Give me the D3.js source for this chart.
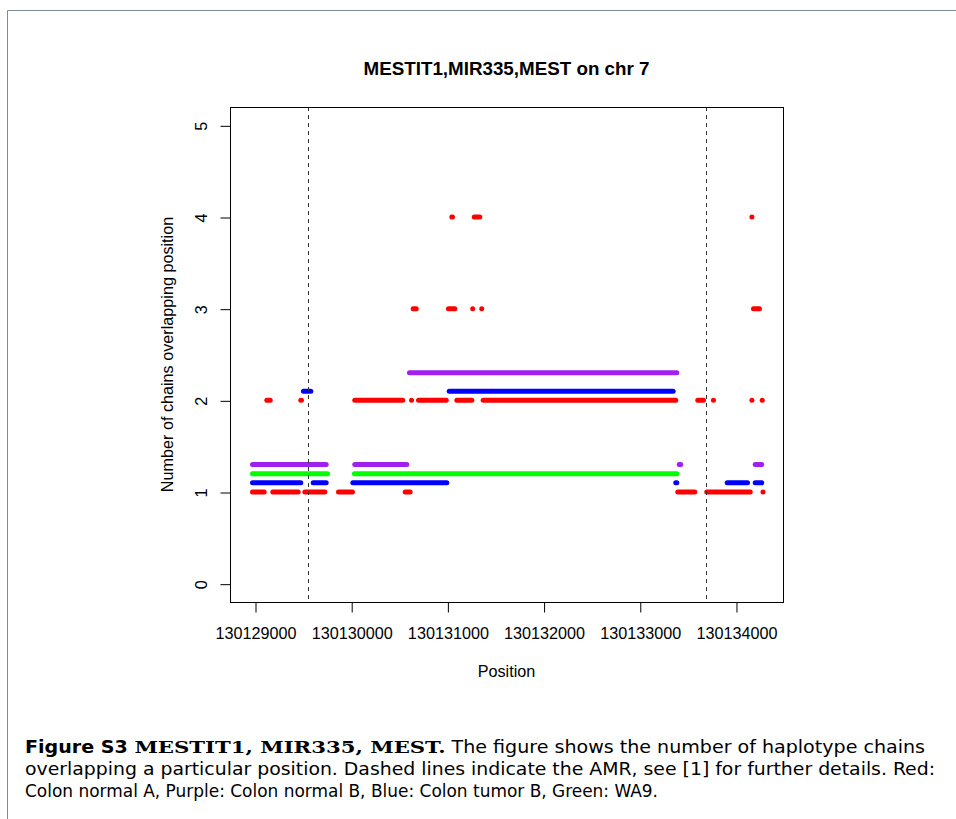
<!DOCTYPE html>
<html>
<head>
<meta charset="utf-8">
<script src="https://cdn.jsdelivr.net/npm/d3@7"></script>
<style>
  html, body { margin: 0; padding: 0; background: #fff; }
  svg { display: block; }
</style>
</head>
<body>
<svg id="fig" width="956" height="819"></svg>
<script>
// Haplotype chain coverage runs: [start, end, number of chains]
const colonNormalA = [
  [130128974, 130129096, 1], [130129185, 130129449, 1], [130129518, 130129726, 1],
  [130129868, 130130013, 1], [130130561, 130130613, 1], [130133395, 130133572, 1],
  [130133696, 130134148, 1], [130134281, 130134281, 1],
  [130129123, 130129158, 2], [130129476, 130129483, 2], [130130037, 130130536, 2],
  [130130627, 130130627, 2], [130130700, 130130988, 2], [130131098, 130131254, 2],
  [130131372, 130133374, 2], [130133603, 130133662, 2], [130133766, 130133766, 2],
  [130134166, 130134166, 2], [130134273, 130134273, 2],
  [130130644, 130130676, 3], [130131011, 130131077, 3], [130131263, 130131263, 3],
  [130131357, 130131357, 3], [130134182, 130134244, 3],
  [130131046, 130131053, 4], [130131279, 130131337, 4], [130134166, 130134166, 4]
];
const colonNormalB = [
  [130128974, 130129740, 1], [130130037, 130130578, 1], [130133410, 130133426, 1],
  [130134200, 130134268, 1],
  [130130606, 130133385, 2]
];
const colonTumorB = [
  [130128974, 130129476, 1], [130129605, 130129740, 1], [130130017, 130130994, 1],
  [130133374, 130133385, 1], [130133909, 130134120, 1], [130134200, 130134268, 1],
  [130129504, 130129580, 2], [130131019, 130133347, 2]
];
const wa9 = [
  [130128974, 130129754, 1], [130130034, 130133385, 1]
];

// Each sample is lifted by a small offset so the runs do not overlap
const sampleNames = ["Colon normal A", "Colon normal B", "Colon tumor B", "WA9"];
const sampleOffsets = [0, 0.3, 0.1, 0.2];
const sampleColors = ["#ff0000", "#a020f0", "#0000ff", "#00ff00"];
const sampleRuns = [colonNormalA, colonNormalB, colonTumorB, wa9];

// AMR boundaries
const amrBounds = [130129554, 130133685];

const xTicks = [130129000, 130130000, 130131000, 130132000, 130133000, 130134000];
const yTicks = [0, 1, 2, 3, 4, 5];
const xRange = [130128953, 130134276];
const yRange = [0, 5];

const svg = d3.select("#fig");
const box = { left: 230, right: 783, top: 107, bottom: 602 };
const sans = "Liberation Sans, Arial, sans-serif";
const axisFont = 16.2;

// R-style 4% padding around the data range
const pad = (r) => { const d = (r[1] - r[0]) * 0.04; return [r[0] - d, r[1] + d]; };
const x = d3.scaleLinear().domain(pad(xRange)).range([box.left, box.right]);
const y = d3.scaleLinear().domain(pad(yRange)).range([box.bottom, box.top]);

// page frame
svg.append("path")
  .attr("d", "M7.5,819 V10.5 H956")
  .attr("fill", "none").attr("stroke", "#7d8a99").attr("stroke-width", 1);

// title
svg.append("text")
  .attr("x", (box.left + box.right) / 2).attr("y", 75)
  .attr("text-anchor", "middle")
  .attr("font-family", sans)
  .attr("font-weight", "bold").attr("font-size", 18.8)
  .text("MESTIT1,MIR335,MEST on chr 7");

// runs
const plot = svg.append("g");
sampleRuns.forEach((runs, i) => {
  plot.append("g").selectAll("line").data(runs).join("line")
    .attr("x1", d => x(d[0])).attr("x2", d => x(d[1]))
    .attr("y1", d => y(d[2] + sampleOffsets[i])).attr("y2", d => y(d[2] + sampleOffsets[i]))
    .attr("stroke", sampleColors[i]).attr("stroke-width", 5)
    .attr("stroke-linecap", "round");
});

// AMR dashed lines
svg.append("g").selectAll("line").data(amrBounds).join("line")
  .attr("x1", d => Math.round(x(d)) + 0.5).attr("x2", d => Math.round(x(d)) + 0.5)
  .attr("y1", box.top).attr("y2", box.bottom)
  .attr("stroke", "#333").attr("stroke-width", 1).attr("stroke-dasharray", "4,4");

// box
svg.append("rect")
  .attr("x", box.left + 0.5).attr("y", box.top + 0.5)
  .attr("width", box.right - box.left).attr("height", box.bottom - box.top)
  .attr("fill", "none").attr("stroke", "#000").attr("stroke-width", 1);

// axes
const xAxis = d3.axisBottom(x).tickValues(xTicks).tickFormat(d3.format("d"))
  .tickSize(10).tickPadding(14.5);
const gx = svg.append("g").attr("transform", `translate(0.5,${box.bottom + 0.5})`).call(xAxis);
gx.select(".domain").attr("d", `M${x(xTicks[0])},0H${x(xTicks[xTicks.length - 1])}`);

const yAxis = d3.axisLeft(y).tickValues(yTicks).tickFormat(d3.format("d")).tickSize(10);
const gy = svg.append("g").attr("transform", `translate(${box.left + 0.5},0.5)`).call(yAxis);
gy.select(".domain").attr("d", `M0,${y(yTicks[0])}V${y(yTicks[yTicks.length - 1])}`);
gy.selectAll(".tick text")
  .attr("x", null).attr("dy", null)
  .attr("transform", "translate(-24,0) rotate(-90)")
  .attr("text-anchor", "middle");

[gx, gy].forEach(g => {
  g.attr("font-family", sans).attr("font-size", axisFont);
  g.selectAll(".tick line").attr("stroke", "#000");
  g.select(".domain").attr("stroke", "#000");
  g.selectAll(".tick text").attr("fill", "#000");
});

// axis titles
svg.append("text")
  .attr("x", (box.left + box.right) / 2).attr("y", 677)
  .attr("text-anchor", "middle")
  .attr("font-family", sans).attr("font-size", axisFont)
  .text("Position");
svg.append("text")
  .attr("transform", `translate(173,${(box.top + box.bottom) / 2}) rotate(-90)`)
  .attr("text-anchor", "middle")
  .attr("font-family", sans).attr("font-size", axisFont)
  .text("Number of chains overlapping position");

// caption
const cap = svg.append("g")
  .attr("font-family", "DejaVu Sans Condensed, Liberation Sans Narrow, Liberation Sans, sans-serif")
  .attr("font-size", 17.5);
const l1 = cap.append("text").attr("x", 25).attr("y", 753).attr("textLength", 900).attr("lengthAdjust", "spacingAndGlyphs");
l1.append("tspan").attr("font-weight", "bold").text("Figure S3 ");
l1.append("tspan").attr("font-weight", "bold").attr("font-family", "DejaVu Serif, Liberation Serif, serif").text("MESTIT1, MIR335, MEST.");
l1.append("tspan").text(" The figure shows the number of haplotype chains");
cap.append("text").attr("x", 25).attr("y", 775).attr("textLength", 910).attr("lengthAdjust", "spacingAndGlyphs")
  .text("overlapping a particular position. Dashed lines indicate the AMR, see [1] for further details. Red:");
cap.append("text").attr("x", 25).attr("y", 797).attr("textLength", 633).attr("lengthAdjust", "spacingAndGlyphs")
  .text("Colon normal A, Purple: Colon normal B, Blue: Colon tumor B, Green: WA9.");
</script>
</body>
</html>
